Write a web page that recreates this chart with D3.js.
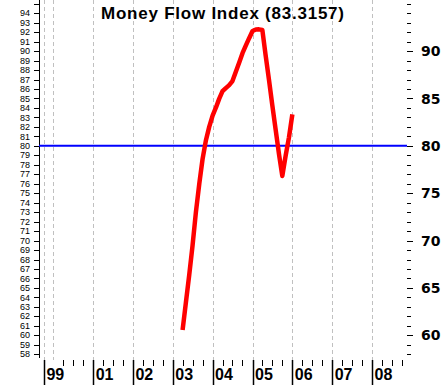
<!DOCTYPE html>
<html>
<head>
<meta charset="utf-8">
<script src="https://cdn.jsdelivr.net/npm/d3@7"></script>
<style>
    html, body { margin: 0; padding: 0; background: #fff; }
    svg { display: block; }
</style>
</head>
<body>
<svg id="chart" width="445" height="385"></svg>
<script>
// --- data --------------------------------------------------------------
const title = 'Money Flow Index (83.3157)';

const months = [
    '2003-04', '2003-05', '2003-06', '2003-07', '2003-08', '2003-09', '2003-10', '2003-11', '2003-12',
    '2004-01', '2004-02', '2004-03', '2004-04', '2004-05', '2004-06', '2004-07', '2004-08', '2004-09',
    '2004-10', '2004-11', '2004-12',
    '2005-01', '2005-02', '2005-03', '2005-04', '2005-05', '2005-06', '2005-07', '2005-08', '2005-09',
    '2005-10', '2005-11', '2005-12',
    '2006-01'
];
const mfiValues = [
    60.56, 63.44, 66.38, 69.44, 73.0, 76.0, 78.6, 80.6, 82.0,
    83.2, 84.05, 84.96, 85.77, 86.1, 86.41, 86.84, 87.82, 88.8,
    89.78, 90.6, 91.37,
    92.12, 92.28, 92.3, 92.23, 89.57, 86.95, 84.32, 81.7, 79.08,
    76.82, 79.0, 80.9,
    83.3157
];
const referenceLevel = 80;

// year markers along the bottom; the first one is where the data window opens
const yearTickDates = ['1999-10-08', '2001-01-01', '2002-01-01', '2003-01-01', '2004-01-01',
    '2005-01-01', '2006-01-01', '2007-01-01', '2008-01-01'];
const yearTickLabels = ['99', '01', '02', '03', '04', '05', '06', '07', '08'];
const leftTickValues = d3.range(58, 96);     // every integer, 95 left unlabeled
const rightMajorValues = [60, 65, 70, 75, 80, 85, 90];

// --- layout ------------------------------------------------------------
const plotLeft = 39;
const plotRight = 407;
const plotTop = 0;
const plotBottom = 360;

const parseDay = d3.timeParse('%Y-%m-%d');
const parseMonth = d3.timeParse('%Y-%m');

const x = d3.scaleTime()
    .domain([new Date(2000, 0, 1), new Date(2008, 0, 1)])
    .range([53.2, 372]);
const y = d3.scaleLinear()
    .domain([57.6, 95.4])
    .range([358, 0]);

const svg = d3.select('#chart');

// dashed vertical grid: year markers plus the unlabeled 2000 line
const gridDates = yearTickDates.map(parseDay).concat([new Date(2000, 0, 1)]);
svg.append('g')
    .attr('class', 'grid')
    .selectAll('line')
    .data(gridDates)
    .join('line')
    .attr('x1', d => Math.round(x(d)) + 0.5)
    .attr('x2', d => Math.round(x(d)) + 0.5)
    .attr('y1', plotTop)
    .attr('y2', plotBottom)
    .attr('stroke', '#c0c0c0')
    .attr('stroke-width', 1)
    .attr('stroke-dasharray', '4,3');

// left axis: 1 point per tick, small labels
const leftAxis = svg.append('g').attr('class', 'axis-left');
leftAxis.append('line')
    .attr('x1', plotLeft + 0.5).attr('x2', plotLeft + 0.5)
    .attr('y1', plotTop).attr('y2', 358)
    .attr('stroke', '#000');
leftAxis.selectAll('line.tick')
    .data(leftTickValues)
    .join('line')
    .attr('class', 'tick')
    .attr('x1', plotLeft - 5).attr('x2', plotLeft)
    .attr('y1', d => Math.round(y(d)) + 0.5)
    .attr('y2', d => Math.round(y(d)) + 0.5)
    .attr('stroke', '#000');
leftAxis.selectAll('text')
    .data(leftTickValues.filter(v => v < 95))
    .join('text')
    .attr('x', 30)
    .attr('y', d => y(d))
    .attr('dy', '0.35em')
    .attr('text-anchor', 'end')
    .attr('font-family', 'Liberation Sans, Arial, sans-serif')
    .attr('font-size', 9)
    .text(d => d);

// right axis: minor tick per point, bold labels every 5
const rightAxis = svg.append('g').attr('class', 'axis-right');
rightAxis.selectAll('line')
    .data(leftTickValues)
    .join('line')
    .attr('x1', plotRight)
    .attr('x2', d => rightMajorValues.includes(d) ? plotRight + 6 : plotRight + 4)
    .attr('y1', d => Math.round(y(d)) + 0.5)
    .attr('y2', d => Math.round(y(d)) + 0.5)
    .attr('stroke', '#000');
rightAxis.selectAll('text')
    .data(rightMajorValues)
    .join('text')
    .attr('x', 421)
    .attr('y', d => y(d))
    .attr('dy', '0.37em')
    .attr('font-family', 'DejaVu Sans, sans-serif')
    .attr('font-weight', 'bold')
    .attr('font-size', 14)
    .text(d => d);

// bottom axis: long ticks at years, short ticks at quarters
const bottomAxis = svg.append('g').attr('class', 'axis-bottom');
const quarterDates = d3.timeMonth.range(new Date(2000, 3, 1), new Date(2008, 11, 1), 3)
    .filter(d => d.getMonth() !== 0);
bottomAxis.selectAll('line.quarter')
    .data(quarterDates)
    .join('line')
    .attr('class', 'quarter')
    .attr('x1', d => Math.round(x(d)) + 0.5)
    .attr('x2', d => Math.round(x(d)) + 0.5)
    .attr('y1', plotBottom)
    .attr('y2', plotBottom + 6)
    .attr('stroke', '#000');
const yearTicks = yearTickDates.map((d, i) => ({ date: parseDay(d), label: yearTickLabels[i] }));
bottomAxis.selectAll('line.year')
    .data(yearTicks)
    .join('line')
    .attr('class', 'year')
    .attr('x1', d => Math.round(x(d.date)) + 0.5)
    .attr('x2', d => Math.round(x(d.date)) + 0.5)
    .attr('y1', plotBottom)
    .attr('y2', 385)
    .attr('stroke', '#000')
    .attr('stroke-width', 1.5);
bottomAxis.selectAll('text')
    .data(yearTicks)
    .join('text')
    .attr('x', d => x(d.date) + 2.5)
    .attr('y', 380)
    .attr('font-family', 'Liberation Sans, Arial, sans-serif')
    .attr('font-weight', 'bold')
    .attr('font-size', 16)
    .text(d => d.label);

// reference level
svg.append('line')
    .attr('x1', plotLeft).attr('x2', plotRight)
    .attr('y1', y(referenceLevel)).attr('y2', y(referenceLevel))
    .attr('stroke', '#0000ff')
    .attr('stroke-width', 2);

// MFI series
const series = months.map((m, i) => ({ date: parseMonth(m), value: mfiValues[i] }));
const line = d3.line()
    .x(d => x(d.date))
    .y(d => y(d.value));
svg.append('path')
    .datum(series)
    .attr('d', line)
    .attr('fill', 'none')
    .attr('stroke', '#ff0000')
    .attr('stroke-width', 4.5)
    .attr('stroke-linejoin', 'round');

// title
svg.append('text')
    .attr('x', 101)
    .attr('y', 18.5)
    .attr('textLength', 243)
    .attr('lengthAdjust', 'spacing')
    .attr('font-family', 'Liberation Sans, Arial, sans-serif')
    .attr('font-weight', 'bold')
    .attr('font-size', 17)
    .text(title);
</script>
</body>
</html>
